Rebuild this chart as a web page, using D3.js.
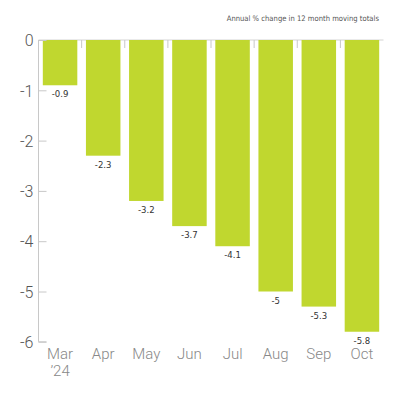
<!DOCTYPE html>
<html>
<head>
<meta charset="utf-8">
<script src="https://cdn.jsdelivr.net/npm/d3@7"></script>
<style>
  body { margin: 0; background: #fff; }
</style>
</head>
<body>
<div id="chart"></div>
<script>
var w = 400;
var h = 400;

// data
var months = ['Mar', 'Apr', 'May', 'Jun', 'Jul', 'Aug', 'Sep', 'Oct'];
var values = [-0.9, -2.3, -3.2, -3.7, -4.1, -5, -5.3, -5.8];
var yTicks = [0, -1, -2, -3, -4, -5, -6];
var title = 'Annual % change in 12 month moving totals';

var svg = d3.select('#chart')
  .append('svg')
    .attr('width', w)
    .attr('height', h)
    .style('background', '#ffffff');

var x = d3.scaleBand()
  .domain(months)
  .range([38.5, 383.5])
  .paddingInner(0.2)
  .paddingOuter(0.1);

var y = d3.scaleLinear()
  .domain([0, -6])
  .range([40, 341.8]);

// title
svg.append('text')
  .attr('x', 379)
  .attr('y', 21)
  .attr('text-anchor', 'end')
  .style('font-family', '"DejaVu Sans Condensed", "DejaVu Sans", sans-serif')
  .style('font-stretch', 'condensed')
  .style('font-size', '7.6px')
  .style('fill', '#555')
  .text(title);

// zero line with band separators hanging down
svg.append('line')
  .attr('x1', 38.5)
  .attr('x2', 383.5)
  .attr('y1', y(0))
  .attr('y2', y(0))
  .style('stroke', '#d4d4d4')
  .style('stroke-width', 1);

svg.selectAll('.sep')
  .data(months.slice(1))
  .enter()
  .append('line')
    .attr('class', 'sep')
    .attr('x1', function(d) { return x(d) - x.step() * x.paddingInner() / 2; })
    .attr('x2', function(d) { return x(d) - x.step() * x.paddingInner() / 2; })
    .attr('y1', y(0))
    .attr('y2', y(0) + 8)
    .style('stroke', '#c8c8c8')
    .style('stroke-width', 1);

// bars
svg.selectAll('.bar')
  .data(values)
  .enter()
  .append('rect')
    .attr('class', 'bar')
    .attr('x', function(d, i) { return x(months[i]); })
    .attr('y', y(0))
    .attr('width', x.bandwidth())
    .attr('height', function(d) { return y(d) - y(0); })
    .style('fill', '#c0d72f');

// value labels under each bar
svg.selectAll('.val')
  .data(values)
  .enter()
  .append('text')
    .attr('class', 'val')
    .attr('x', function(d, i) { return x(months[i]) + x.bandwidth() / 2; })
    .attr('y', function(d) { return y(d) + 12; })
    .attr('text-anchor', 'middle')
    .style('font-family', '"DejaVu Sans Condensed", "DejaVu Sans", sans-serif')
    .style('font-stretch', 'condensed')
    .style('font-size', '9.5px')
    .style('fill', '#333')
    .text(function(d) { return d; });

// y axis
var yAxis = d3.axisRight(y)
  .tickValues(yTicks)
  .tickSize(8)
  .tickFormat(d3.format('d'));

var yg = svg.append('g')
  .attr('transform', 'translate(38.5,0)')
  .call(yAxis);

yg.select('.domain')
  .attr('d', 'M0,' + y(0) + 'V' + y(-6) + 'H8')
  .style('stroke', '#c8c8c8');
yg.selectAll('.tick line').style('stroke', '#c8c8c8');
yg.selectAll('.tick text')
  .attr('x', -5)
  .attr('dy', '0.36em')
  .attr('text-anchor', 'end')
  .style('font-family', 'Roboto, "Liberation Sans", sans-serif')
  .style('font-weight', 300)
  .style('font-size', '16px')
  .style('fill', '#555')
  .text(function(d) { return d === 0 ? '0' : '-' + Math.abs(d); });

// x labels
svg.selectAll('.xl')
  .data(months)
  .enter()
  .append('text')
    .attr('class', 'xl')
    .attr('x', function(d) { return x(d) + x.bandwidth() / 2; })
    .attr('y', 359)
    .attr('text-anchor', 'middle')
    .style('font-family', 'Roboto, "Liberation Sans", sans-serif')
    .style('font-weight', 300)
    .style('font-size', '15px')
    .style('fill', '#888')
    .text(function(d) { return d; });

svg.append('text')
  .attr('x', x('Mar') + x.bandwidth() / 2)
  .attr('y', 376)
  .attr('text-anchor', 'middle')
  .style('font-family', 'Roboto, "Liberation Sans", sans-serif')
  .style('font-weight', 300)
  .style('font-size', '15px')
  .style('fill', '#888')
  .text('\u201924');
</script>
</body>
</html>
